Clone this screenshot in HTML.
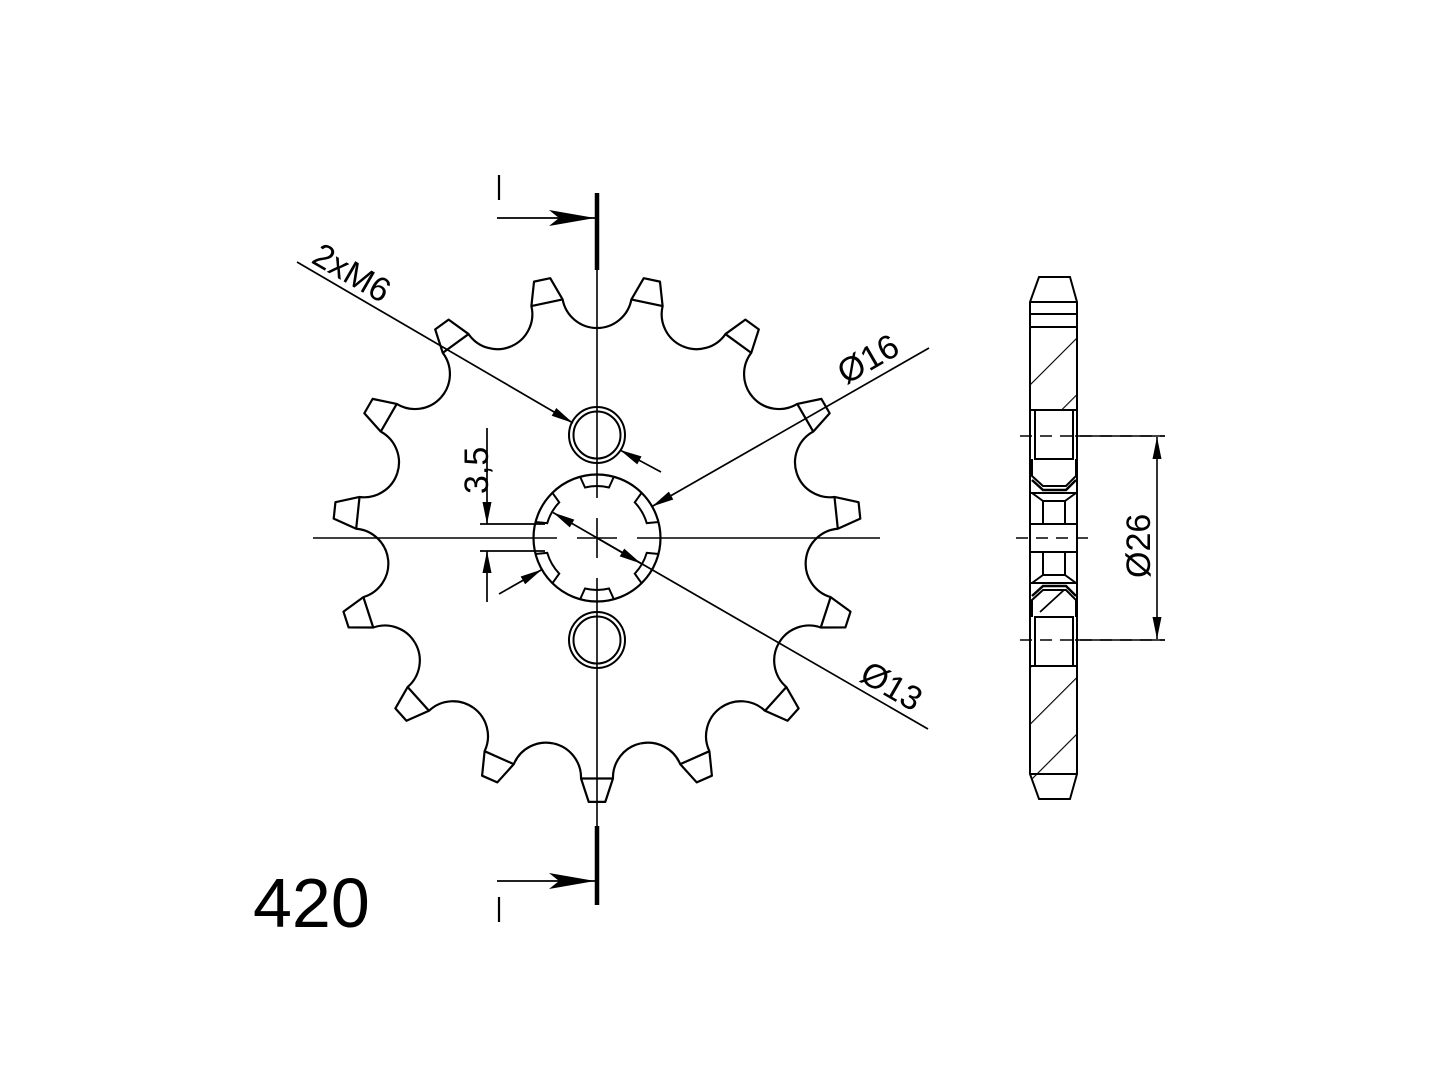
<!DOCTYPE html>
<html><head><meta charset="utf-8"><style>
html,body{margin:0;padding:0;background:#fff;}
svg{display:block;}
text{font-family:"Liberation Sans","DejaVu Sans",sans-serif;fill:#000;}
</style></head><body>
<svg width="1440" height="1080" viewBox="0 0 1440 1080" xmlns="http://www.w3.org/2000/svg">
<defs>
<marker id="ar" markerUnits="userSpaceOnUse" markerWidth="26" markerHeight="14" refX="0" refY="0" viewBox="-24 -7 26 14" orient="auto">
<path d="M0,0 L-22,-4.5 L-22,4.5 Z" fill="#000"/>
</marker>
<marker id="arB" markerUnits="userSpaceOnUse" markerWidth="50" markerHeight="20" refX="0" refY="0" viewBox="-48 -10 50 20" orient="auto">
<path d="M0,0 L-46,-8 L-36,0 L-46,8 Z" fill="#000"/>
</marker>
<g id="tooth" fill="none" stroke="#000" stroke-width="2.2" stroke-linejoin="round">
<path d="M-43.66,-205.41 A35,35 0 0 0 -15.97,-240.47 L-8.29,-263.87 L8.29,-263.87 L15.97,-240.47 A35,35 0 0 0 43.66,-205.41"/>
<line x1="-15.97" y1="-240.47" x2="15.97" y2="-240.47"/>
</g>
<path id="notch" d="M-17,-61.5 L-12,-50.5 A51,51 0 0 1 12,-50.5 L17,-61.5" fill="none" stroke="#000" stroke-width="2"/>
<pattern id="hatch" patternUnits="userSpaceOnUse" width="40" height="40" patternTransform="rotate(-45)">
<line x1="0" y1="0" x2="40" y2="0" stroke="#000" stroke-width="2.2"/>
</pattern>
</defs>

<g transform="translate(597,538)">
<use href="#tooth" transform="rotate(12)"/>
<use href="#tooth" transform="rotate(36)"/>
<use href="#tooth" transform="rotate(60)"/>
<use href="#tooth" transform="rotate(84)"/>
<use href="#tooth" transform="rotate(108)"/>
<use href="#tooth" transform="rotate(132)"/>
<use href="#tooth" transform="rotate(156)"/>
<use href="#tooth" transform="rotate(180)"/>
<use href="#tooth" transform="rotate(204)"/>
<use href="#tooth" transform="rotate(228)"/>
<use href="#tooth" transform="rotate(252)"/>
<use href="#tooth" transform="rotate(276)"/>
<use href="#tooth" transform="rotate(300)"/>
<use href="#tooth" transform="rotate(324)"/>
<use href="#tooth" transform="rotate(348)"/>
<circle r="63.5" fill="none" stroke="#000" stroke-width="2.2"/>
<use href="#notch" transform="rotate(0)"/>
<use href="#notch" transform="rotate(60)"/>
<use href="#notch" transform="rotate(120)"/>
<use href="#notch" transform="rotate(180)"/>
<use href="#notch" transform="rotate(240)"/>
<use href="#notch" transform="rotate(300)"/>
</g>

<g fill="none" stroke="#000" stroke-width="2">
<circle cx="597" cy="435" r="28"/><circle cx="597" cy="435" r="23.5"/>
<circle cx="597" cy="640" r="28"/><circle cx="597" cy="640" r="23.5"/>
</g>

<g stroke="#000" stroke-width="1.6" fill="none">
<line x1="313" y1="538" x2="557" y2="538"/>
<line x1="577" y1="538" x2="617" y2="538"/>
<line x1="637" y1="538" x2="880" y2="538"/>
<line x1="597" y1="270" x2="597" y2="498"/>
<line x1="597" y1="518" x2="597" y2="558"/>
<line x1="597" y1="578" x2="597" y2="826"/>
</g>
<g stroke="#000" fill="none">
<line x1="597" y1="193" x2="597" y2="270" stroke-width="4.5"/>
<line x1="597" y1="826" x2="597" y2="905" stroke-width="4.5"/>
<line x1="497" y1="218" x2="595" y2="218" stroke-width="1.8" marker-end="url(#arB)"/>
<line x1="497" y1="881" x2="595" y2="881" stroke-width="1.8" marker-end="url(#arB)"/>
<line x1="499" y1="175" x2="499" y2="200" stroke-width="2.2"/>
<line x1="499" y1="897" x2="499" y2="922" stroke-width="2.2"/>
</g>

<g stroke="#000" stroke-width="1.7" fill="none">
<line x1="297" y1="262" x2="573" y2="423" marker-end="url(#ar)"/>
<line x1="661" y1="472" x2="620" y2="450" marker-end="url(#ar)"/>
<line x1="929" y1="348" x2="652" y2="506.5" marker-end="url(#ar)"/>
<line x1="499" y1="594" x2="542" y2="569.5" marker-end="url(#ar)"/>
<line x1="928" y1="729" x2="553" y2="512.5" marker-end="url(#ar)"/>
<line x1="597" y1="538" x2="641" y2="563.5" marker-end="url(#ar)"/>
<line x1="487" y1="428" x2="487" y2="524" marker-end="url(#ar)"/>
<line x1="487" y1="602" x2="487" y2="551" marker-end="url(#ar)"/>
<line x1="480" y1="524" x2="545" y2="524"/>
<line x1="480" y1="551" x2="545" y2="551"/>
</g>

<text x="0" y="0" font-size="34" transform="translate(310,262) rotate(30)">2xM6</text>
<text x="0" y="0" font-size="34" transform="translate(846,385) rotate(-30)">Ø16</text>
<text x="0" y="0" font-size="34" transform="translate(858,680) rotate(30)">Ø13</text>
<text x="0" y="0" font-size="34" transform="translate(488,494) rotate(-90)">3,5</text>
<text x="253" y="927" font-size="70">420</text>

<g stroke="#000" stroke-width="2" fill="none">
<path d="M1039,277 L1070,277 L1077,302 L1077,774 L1070,799 L1039,799 L1030,774 L1030,302 Z"/>
<line x1="1030" y1="302" x2="1077" y2="302"/>
<line x1="1030" y1="314" x2="1077" y2="314"/>
<line x1="1030" y1="327" x2="1077" y2="327"/>
<line x1="1030" y1="774" x2="1077" y2="774"/>
<rect x="1031" y="328" width="45" height="82" fill="url(#hatch)" stroke="none"/>
<rect x="1031" y="666" width="45" height="108" fill="url(#hatch)" stroke="none"/>
<polygon points="1031,774 1076,774 1069,798 1040,798" fill="url(#hatch)" stroke="none"/>
<line x1="1030" y1="410" x2="1077" y2="410"/>
<line x1="1030" y1="666" x2="1077" y2="666"/>
<rect x="1035" y="410" width="38" height="49"/>
<rect x="1035" y="617" width="38" height="49"/>
<path d="M1032,459 L1032,476 L1043,486 L1066,486 L1076,476 L1076,459"/>
<path d="M1032,480 L1043,490 L1066,490 L1076,480" stroke-width="2.5"/>
<line x1="1030" y1="493" x2="1077" y2="493"/>
<rect x="1043" y="501" width="22" height="23"/>
<line x1="1032" y1="493" x2="1043" y2="501"/>
<line x1="1076" y1="493" x2="1065" y2="501"/>
<line x1="1030" y1="524" x2="1077" y2="524"/>
<line x1="1030" y1="552" x2="1077" y2="552"/>
<rect x="1043" y="552" width="22" height="23"/>
<line x1="1032" y1="583" x2="1043" y2="575"/>
<line x1="1076" y1="583" x2="1065" y2="575"/>
<line x1="1030" y1="583" x2="1077" y2="583"/>
<path d="M1032,617 L1032,600 L1043,590 L1066,590 L1076,600 L1076,617"/>
<path d="M1032,596 L1043,586 L1066,586 L1076,596" stroke-width="2.5"/>
<line x1="1040" y1="612" x2="1064" y2="590" stroke-width="1.8"/>
</g>
<g stroke="#000" stroke-width="1.6" fill="none">
<line x1="1020" y1="436" x2="1165" y2="436" stroke-dasharray="12,8"/>
<line x1="1075" y1="436" x2="1165" y2="436"/>
<line x1="1016" y1="538" x2="1092" y2="538" stroke-dasharray="12,8"/>
<line x1="1020" y1="640" x2="1165" y2="640" stroke-dasharray="12,8"/>
<line x1="1075" y1="640" x2="1165" y2="640"/>
<line x1="1157" y1="538" x2="1157" y2="437" marker-end="url(#ar)"/>
<line x1="1157" y1="538" x2="1157" y2="639" marker-end="url(#ar)"/>
</g>
<text x="0" y="0" font-size="34" transform="translate(1150,578) rotate(-90)">Ø26</text>
</svg>
</body></html>
